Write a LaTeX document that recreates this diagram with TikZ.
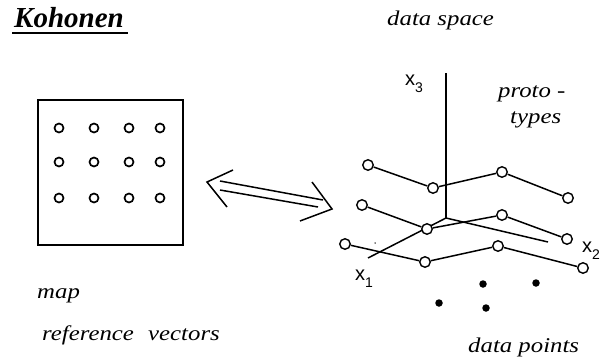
\documentclass[tikz,border=0pt]{standalone}
\usepackage{fontspec}
\setmainfont{Liberation Serif}
\newfontfamily\axisfont{Liberation Sans}
\tikzset{
  lbl/.style={font=\fontsize{21}{24}\selectfont\itshape, inner sep=0pt, anchor=base west, xscale=1.18},
  axlbl/.style={font=\axisfont\fontsize{20}{22}\selectfont, inner sep=0pt, anchor=base west},
  mapdot/.style={circle, draw, line width=1.7pt, minimum size=9pt, inner sep=0pt},
  proto/.style={circle, draw, fill=white, line width=1.4pt, minimum size=10.5pt, inner sep=0pt},
  datapt/.style={circle, fill=black, minimum size=7.5pt, inner sep=0pt},
  ln/.style={line width=1.5pt},
}
\newcommand{\axsub}[1]{\raisebox{-7pt}{\fontsize{14}{14}\selectfont #1}}
\begin{document}
\begin{tikzpicture}[x=1pt, y=-1pt]
\useasboundingbox (0,0) rectangle (602,359);
% title
\node[font=\fontsize{29}{32}\selectfont\bfseries\itshape, inner sep=0pt, anchor=base west] (title) at (14,27) {Kohonen};
\draw[line width=2.2pt] (12,33) -- (128,33);
% map box
\node[draw, line width=1.6pt, minimum width=145pt, minimum height=145pt, inner sep=0pt] (box) at (110.5,172.5) {};
\foreach \c/\xx in {1/59,2/94,3/129,4/160}{
  \foreach \r/\yy in {1/128,2/162,3/198}{
    \node[mapdot] (m\r\c) at (\xx,\yy) {};
  }
}
% double arrow
\coordinate (La) at (207,182);
\coordinate (Lu) at (233,170);
\coordinate (Ld) at (227,207);
\coordinate (Ra) at (332,209);
\coordinate (Ru) at (312,182);
\coordinate (Rd) at (300,221);
\draw[ln] (Lu) -- (La) -- (Ld);
\draw[ln] (Ru) -- (Ra) -- (Rd);
\draw[ln] (220,181) -- (323,200);
\draw[ln] (220,190) -- (318,207);
% axes
\coordinate (O) at (446,218);
\coordinate (X3) at (446,73);
\coordinate (X2) at (548,242);
\coordinate (X1) at (368,258);
\draw[ln] (O) -- (X3);
\draw[ln] (O) -- (X2);
\draw[ln] (O) -- (X1);
\node[axlbl] (l3) at (405,85) {x\axsub{3}};
\node[axlbl] (l1) at (355,280) {x\axsub{1}};
\node[axlbl] (l2) at (582,252) {x\axsub{2}};
% prototypes
\node[proto] (p11) at (368,165) {};
\node[proto] (p12) at (433,188) {};
\node[proto] (p13) at (502,172) {};
\node[proto] (p14) at (568,198) {};
\node[proto] (p21) at (362,205) {};
\node[proto] (p22) at (427,229) {};
\node[proto] (p23) at (502,215) {};
\node[proto] (p24) at (567,239) {};
\node[proto] (p31) at (345,244) {};
\node[proto] (p32) at (425,262) {};
\node[proto] (p33) at (498,246) {};
\node[proto] (p34) at (583,268) {};
\draw[ln] (p11) -- (p12) -- (p13) -- (p14);
\draw[ln] (p21) -- (p22) -- (p23) -- (p24);
\draw[ln] (p31) -- (p32) -- (p33) -- (p34);
% data points
\node[datapt] (d1) at (483,284) {};
\node[datapt] (d2) at (536,283) {};
\node[datapt] (d3) at (439,303) {};
\node[datapt] (d4) at (486,308) {};
\node[circle, fill=black, minimum size=1.5pt, inner sep=0pt] (d5) at (375,243) {};
% labels
\node[lbl] (ds) at (387,25) {data space};
\node[lbl] (pr1) at (498,97) {proto -};
\node[lbl] (pr2) at (510,123) {types};
\node[lbl] (mp) at (37,298) {map};
\node[lbl] (rv1) at (42,340) {reference};
\node[lbl] (rv2) at (148,340) {vectors};
\node[lbl] (dp) at (468,352) {data points};
\end{tikzpicture}
\end{document}
